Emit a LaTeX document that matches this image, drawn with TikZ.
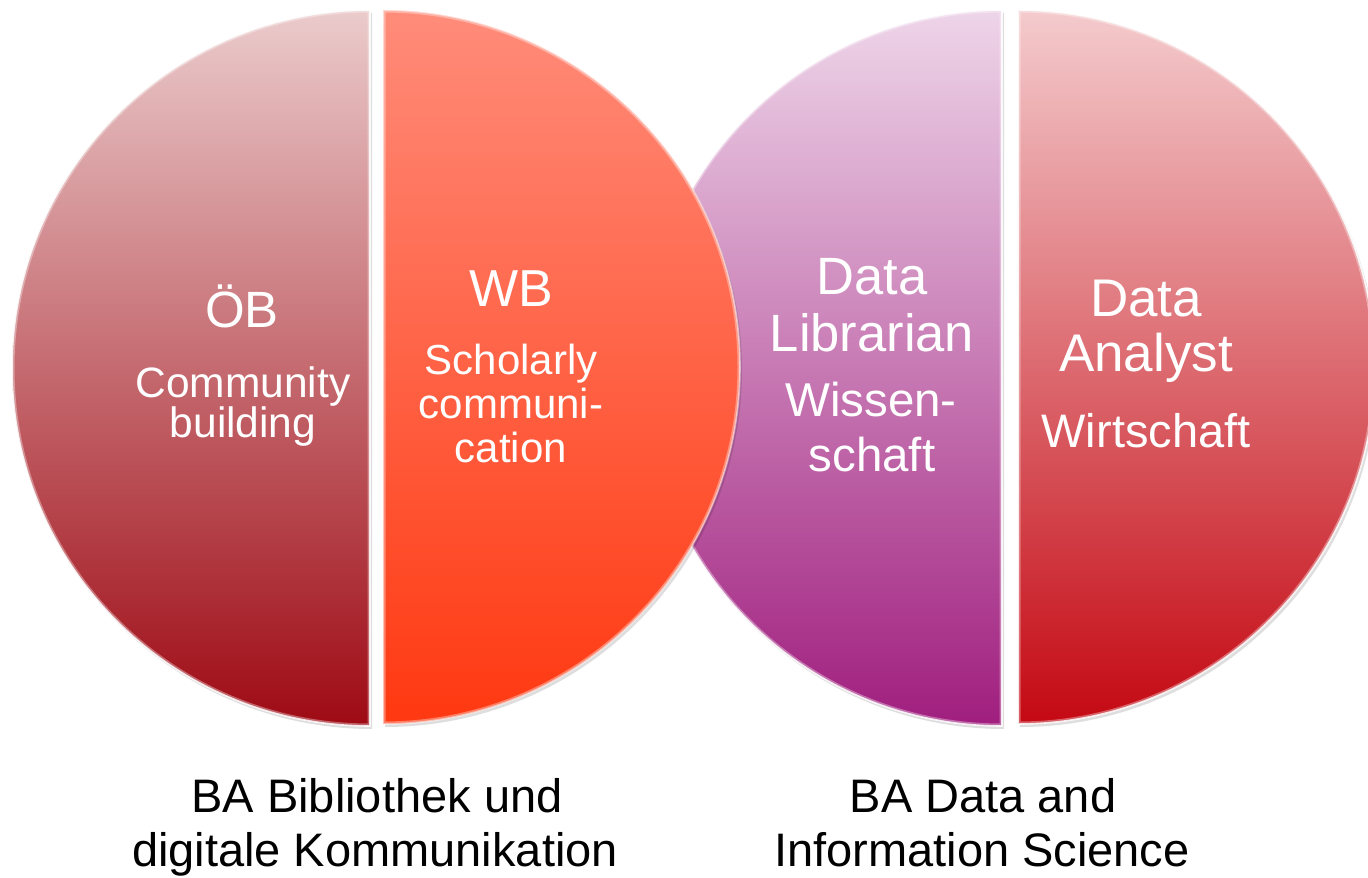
\documentclass[tikz,border=0pt]{standalone}
\usepackage{fontspec}
\setmainfont{Liberation Sans}
\begin{document}
\begin{tikzpicture}[x=1pt,y=1pt,
  half/.style={line width=1.6pt, draw=white, draw opacity=0.85},
  shadowfill/.style={fill=black, fill opacity=0.13},
  rim/.style={draw=white, draw opacity=0.35, line width=5pt},
  wt/.style={text=white, inner sep=0pt, anchor=base},
  bt/.style={text=black, inner sep=0pt, anchor=base, font=\fontsize{47}{54}\selectfont}]
\useasboundingbox (0,0) rectangle (1368,878);
\definecolor{obtop}{HTML}{EBCBCC}\definecolor{obbot}{HTML}{9E0A14}
\definecolor{wbtop}{HTML}{FF8C7A}\definecolor{wbbot}{HTML}{FF3810}
\definecolor{dltop}{HTML}{EED5E9}\definecolor{dlbot}{HTML}{A01E7E}
\definecolor{datop}{HTML}{F4CBCD}\definecolor{dabot}{HTML}{C40812}
% shadows
\fill[shadowfill] (1020,865) arc[start angle=90,end angle=-90,radius=357] -- cycle;
\fill[shadowfill] (1004,865) arc[start angle=90,end angle=270,radius=358] -- cycle;
% right circle: right half
\begin{scope}
\clip (1018,868) arc[start angle=90,end angle=-90,radius=357] -- cycle;
\shade[top color=datop, bottom color=dabot] (1000,868) rectangle (1380,152);
\draw[rim] (1018,868) arc[start angle=90,end angle=-90,radius=357] -- cycle;
\end{scope}
\draw[half] (1018,868) arc[start angle=90,end angle=-90,radius=357] -- cycle;
% right circle: left half
\begin{scope}
\clip (1002,868) arc[start angle=90,end angle=270,radius=358] -- cycle;
\shade[top color=dltop, bottom color=dlbot] (640,868) rectangle (1010,152);
\draw[rim] (1002,868) arc[start angle=90,end angle=270,radius=358] -- cycle;
\end{scope}
\draw[half] (1002,868) arc[start angle=90,end angle=270,radius=358] -- cycle;
% left circle shadows
\fill[shadowfill] (372,865) arc[start angle=90,end angle=270,radius=358] -- cycle;
\fill[shadowfill] (385,865) arc[start angle=90,end angle=-90,radius=357] -- cycle;
% left circle: left half
\begin{scope}
\clip (370,868) arc[start angle=90,end angle=270,radius=358] -- cycle;
\shade[top color=obtop, bottom color=obbot] (0,868) rectangle (380,152);
\draw[rim] (370,868) arc[start angle=90,end angle=270,radius=358] -- cycle;
\end{scope}
\draw[half] (370,868) arc[start angle=90,end angle=270,radius=358] -- cycle;
% left circle: right half
\begin{scope}
\clip (383,868) arc[start angle=90,end angle=-90,radius=357] -- cycle;
\shade[top color=wbtop, bottom color=wbbot] (370,868) rectangle (750,152);
\draw[rim] (383,868) arc[start angle=90,end angle=-90,radius=357] -- cycle;
\end{scope}
\draw[half, draw opacity=0.5] (383,868) arc[start angle=90,end angle=-90,radius=357] -- cycle;
% texts
\node[wt, font=\fontsize{51}{55}\selectfont] (ob) at (242,550) {ÖB};
\node[wt, font=\fontsize{42.5}{46}\selectfont] (ob1) at (243,480) {Community};
\node[wt, font=\fontsize{42.5}{46}\selectfont] (ob2) at (243,440) {building};
\node[wt, font=\fontsize{52}{56}\selectfont] (wb) at (511,571) {WB};
\node[wt, font=\fontsize{42}{46}\selectfont] (wb1) at (511,503) {Scholarly};
\node[wt, font=\fontsize{42}{46}\selectfont] (wb2) at (511,459) {communi-};
\node[wt, font=\fontsize{42}{46}\selectfont] (wb3) at (511,415) {cation};
\node[wt, font=\fontsize{52.5}{56}\selectfont] (dl1) at (872,583) {Data};
\node[wt, font=\fontsize{52.5}{56}\selectfont] (dl2) at (872,526) {Librarian};
\node[wt, font=\fontsize{47.5}{50}\selectfont] (dl3) at (871,461) {Wissen-};
\node[wt, font=\fontsize{47.5}{50}\selectfont] (dl4) at (872,406) {schaft};
\node[wt, font=\fontsize{53}{57}\selectfont] (da1) at (1146,561) {Data};
\node[wt, font=\fontsize{53}{57}\selectfont] (da2) at (1146,506) {Analyst};
\node[wt, font=\fontsize{47}{50}\selectfont] (da3) at (1146,430) {Wirtschaft};
\node[bt] (ba1) at (377,65) {BA Bibliothek und};
\node[bt] (ba2) at (375,11) {digitale Kommunikation};
\node[bt] (bd1) at (983,65) {BA Data and};
\node[bt] (bd2) at (982,11) {Information Science};
\end{tikzpicture}
\end{document}
